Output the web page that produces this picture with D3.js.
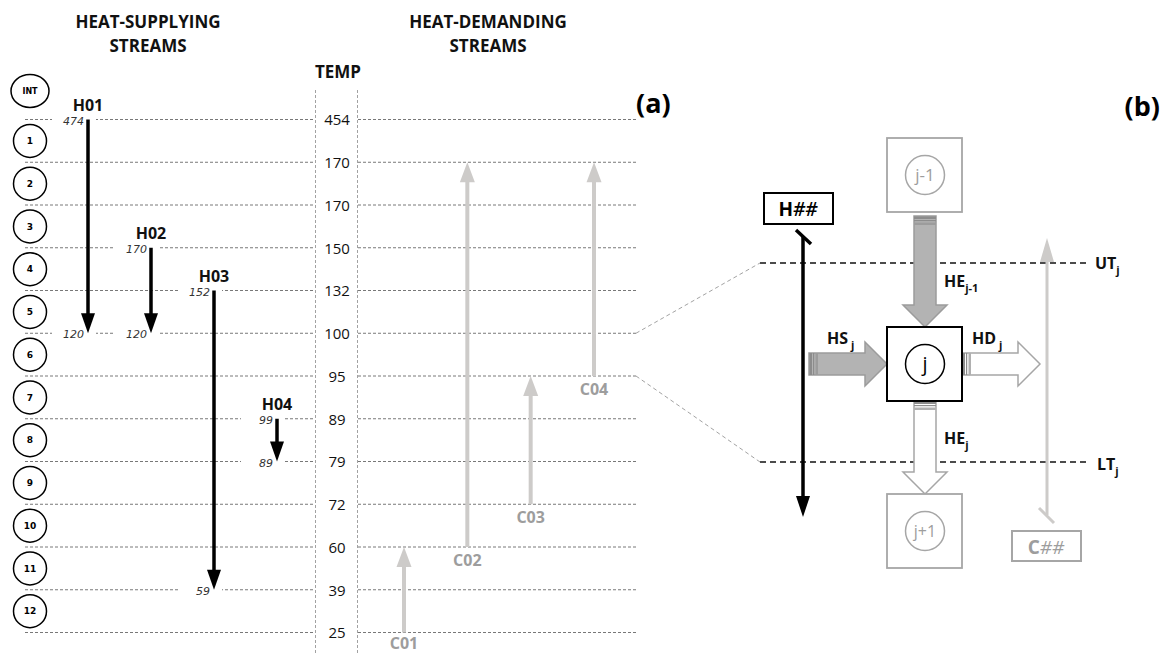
<!DOCTYPE html>
<html>
<head>
<meta charset="utf-8">
<script src="https://cdn.jsdelivr.net/npm/d3@7"></script>
<style>
  body { margin: 0; background: #fff; }
  svg text { font-family: "Open Sans", sans-serif; }
</style>
</head>
<body>
<script>
// Temperature interval boundaries, top to bottom
const tempLabels = [454, 170, 170, 150, 132, 100, 95, 89, 79, 72, 60, 39, 25];
const intervalLabels = ["1", "2", "3", "4", "5", "6", "7", "8", "9", "10", "11", "12"];

// Heat-supplying streams (start / end boundary row, real in / out temps)
const hotNames = ["H01", "H02", "H03", "H04"];
const hotStart = [0, 3, 4, 7];
const hotEnd = [5, 5, 11, 8];
const hotTin = [474, 170, 152, 99];
const hotTout = [120, 120, 59, 89];

// Heat-demanding streams (start / end boundary row)
const coldNames = ["C01", "C02", "C03", "C04"];
const coldStart = [12, 10, 9, 6];
const coldEnd = [10, 1, 6, 1];

const width = 1165, height = 654;
const svg = d3.select("body").append("svg")
  .attr("width", width)
  .attr("height", height);

// scales
const y = d3.scalePoint().domain(d3.range(tempLabels.length)).range([119.5, 632.5]);
const xHot = d3.scalePoint().domain(hotNames).range([88, 277]);
const xCold = d3.scalePoint().domain(coldNames).range([404, 594]);

// ---------- panel (a) ----------

// headers
function header(x, yy, txt, size) {
  svg.append("text")
    .attr("x", x).attr("y", yy)
    .attr("text-anchor", "middle")
    .style("font-size", size + "px")
    .style("font-weight", "bold")
    .style("fill", "#111")
    .text(txt);
}
header(148, 28, "HEAT-SUPPLYING", 17);
header(148, 52, "STREAMS", 17);
header(488, 28, "HEAT-DEMANDING", 17);
header(488, 52, "STREAMS", 17);
header(338, 78, "TEMP", 17);

svg.append("text")
  .attr("x", 636).attr("y", 113)
  .style("font-size", "27px").style("font-weight", "bold")
  .text("(a)");

// horizontal dashed boundaries
[[25, 315], [358, 636]].forEach(function (seg) {
  svg.selectAll(null)
    .data(y.domain())
    .enter().append("line")
    .attr("x1", seg[0]).attr("x2", seg[1])
    .attr("y1", d => y(d)).attr("y2", d => y(d))
    .style("stroke", "#555")
    .style("stroke-width", 0.8)
    .style("stroke-dasharray", "3 2");
});

// temperature column borders
[315.5, 357.5].forEach(function (x) {
  svg.append("line")
    .attr("x1", x).attr("x2", x).attr("y1", 90).attr("y2", height)
    .style("stroke", "#8a8a8a")
    .style("stroke-width", 0.8)
    .style("stroke-dasharray", "3 2");
});

// temperature labels via an axis
const tempAxis = d3.axisRight(y)
  .tickSize(0)
  .tickPadding(0)
  .tickFormat(i => tempLabels[i]);

svg.append("g")
  .attr("transform", "translate(337,0)")
  .call(tempAxis)
  .call(g => g.select(".domain").remove())
  .selectAll("text")
  .attr("x", 0)
  .attr("dy", "0.35em")
  .attr("text-anchor", "middle")
  .style("font-family", "'Open Sans', sans-serif")
  .style("font-size", "15px")
  .style("fill", "#111");

// interval circles
const circ = svg.append("g");
circ.append("ellipse")
  .attr("cx", 30).attr("cy", 91).attr("rx", 19).attr("ry", 16.5)
  .style("fill", "#fff").style("stroke", "#000").style("stroke-width", 1.5);
circ.append("text")
  .attr("x", 30).attr("y", 91).attr("dy", "0.35em")
  .attr("text-anchor", "middle")
  .style("font-family", "'DejaVu Sans', sans-serif")
  .style("font-size", "8px").style("font-weight", "bold")
  .text("INT");

circ.selectAll("circle.interval")
  .data(intervalLabels)
  .enter().append("circle")
  .attr("class", "interval")
  .attr("cx", 30)
  .attr("cy", (d, i) => (y(i) + y(i + 1)) / 2)
  .attr("r", 16.5)
  .style("fill", "#fff").style("stroke", "#000").style("stroke-width", 1.5);

circ.selectAll("text.interval")
  .data(intervalLabels)
  .enter().append("text")
  .attr("class", "interval")
  .attr("x", 30)
  .attr("y", (d, i) => (y(i) + y(i + 1)) / 2)
  .attr("dy", "0.35em")
  .attr("text-anchor", "middle")
  .style("font-family", "'DejaVu Sans', sans-serif")
  .style("font-size", "9px").style("font-weight", "bold")
  .text(d => d);

// hot streams
const hot = hotNames.map((n, i) => ({ name: n, start: hotStart[i], end: hotEnd[i], tin: hotTin[i], tout: hotTout[i] }));
const headL = 20, headW = 14;

const tempTags = [];
hot.forEach(d => {
  tempTags.push({ x: xHot(d.name), y: y(d.start), t: d.tin });
  tempTags.push({ x: xHot(d.name), y: y(d.end), t: d.tout });
});

svg.selectAll("rect.tagbg")
  .data(tempTags)
  .enter().append("rect")
  .attr("class", "tagbg")
  .attr("x", d => d.x - 36)
  .attr("y", d => d.y - 6)
  .attr("width", 44)
  .attr("height", 12)
  .style("fill", "#fff");

svg.selectAll("text.tag")
  .data(tempTags)
  .enter().append("text")
  .attr("class", "tag")
  .attr("x", d => d.x - 4)
  .attr("y", d => d.y + 5)
  .attr("text-anchor", "end")
  .style("font-family", "'DejaVu Sans', sans-serif")
  .style("font-size", "11px")
  .style("font-style", "italic")
  .style("fill", "#333")
  .text(d => d.t);

svg.selectAll("line.hot")
  .data(hot)
  .enter().append("line")
  .attr("class", "hot")
  .attr("x1", d => xHot(d.name)).attr("x2", d => xHot(d.name))
  .attr("y1", d => y(d.start)).attr("y2", d => y(d.end) - headL + 2)
  .style("stroke", "#000").style("stroke-width", 3.5);

svg.selectAll("path.hothead")
  .data(hot)
  .enter().append("path")
  .attr("class", "hothead")
  .attr("d", d => {
    const x = xHot(d.name), ye = y(d.end);
    return `M${x - headW / 2},${ye - headL}L${x + headW / 2},${ye - headL}L${x},${ye}Z`;
  })
  .style("fill", "#000");

svg.selectAll("text.hotname")
  .data(hot)
  .enter().append("text")
  .attr("class", "hotname")
  .attr("x", d => xHot(d.name))
  .attr("y", d => y(d.start) - 9)
  .attr("text-anchor", "middle")
  .style("font-size", "16px").style("font-weight", "bold")
  .style("fill", "#111")
  .text(d => d.name);

// cold streams
const cold = coldNames.map((n, i) => ({ name: n, start: coldStart[i], end: coldEnd[i] }));
const coldCol = "#cdcbc9";

svg.selectAll("line.cold")
  .data(cold)
  .enter().append("line")
  .attr("class", "cold")
  .attr("x1", d => xCold(d.name)).attr("x2", d => xCold(d.name))
  .attr("y1", d => y(d.start)).attr("y2", d => y(d.end) + headL - 2)
  .style("stroke", coldCol).style("stroke-width", 4);

svg.selectAll("path.coldhead")
  .data(cold)
  .enter().append("path")
  .attr("class", "coldhead")
  .attr("d", d => {
    const x = xCold(d.name), ye = y(d.end);
    return `M${x - 7.5},${ye + headL}L${x + 7.5},${ye + headL}L${x},${ye}Z`;
  })
  .style("fill", coldCol);

svg.selectAll("text.coldname")
  .data(cold)
  .enter().append("text")
  .attr("class", "coldname")
  .attr("x", d => xCold(d.name))
  .attr("y", d => Math.min(y(d.start) + 19, 649))
  .attr("text-anchor", "middle")
  .style("font-size", "16px").style("font-weight", "bold")
  .style("fill", "#9d9d9d")
  .text(d => d.name);

// ---------- panel (b) ----------
const ut = 263, lt = 462;
const pb = svg.append("g");

// connectors from interval 6 of (a)
pb.append("path")
  .attr("d", `M636,${y(5)}L760,${ut}M636,${y(6)}L760,${lt}`)
  .style("fill", "none").style("stroke", "#8a8a8a")
  .style("stroke-width", 0.8).style("stroke-dasharray", "4 3");

[ut, lt].forEach(v => {
  pb.append("line")
    .attr("x1", 760).attr("x2", 1087).attr("y1", v).attr("y2", v)
    .style("stroke", "#111").style("stroke-width", 1.4)
    .style("stroke-dasharray", "6 4");
});

function subLabel(x, yy, main, sub, gap) {
  const t = pb.append("text")
    .attr("x", x).attr("y", yy)
    .style("font-size", "16px").style("font-weight", "bold")
    .style("fill", "#111");
  t.append("tspan").text(main);
  t.append("tspan")
    .attr("dx", gap || 0)
    .attr("dy", 5)
    .style("font-size", "11px")
    .text(sub);
}
subLabel(1095, 269, "UT", "j");
subLabel(1097, 470, "LT", "j");

pb.append("text")
  .attr("x", 1160).attr("y", 116)
  .attr("text-anchor", "end")
  .style("font-size", "27px").style("font-weight", "bold")
  .text("(b)");

// cold stream in (b)
pb.append("line")
  .attr("x1", 1047).attr("x2", 1047).attr("y1", 515).attr("y2", 258)
  .style("stroke", coldCol).style("stroke-width", 3);
pb.append("path")
  .attr("d", "M1040,262L1054,262L1047,238Z")
  .style("fill", coldCol);
pb.append("line")
  .attr("x1", 1039).attr("y1", 508).attr("x2", 1054).attr("y2", 523)
  .style("stroke", coldCol).style("stroke-width", 3);
pb.append("rect")
  .attr("x", 1012).attr("y", 531).attr("width", 69).attr("height", 30)
  .style("fill", "#fff").style("stroke", "#a6a6a6").style("stroke-width", 2);
const ct = pb.append("text")
  .attr("x", 1046).attr("y", 554)
  .attr("text-anchor", "middle")
  .style("font-size", "19px").style("fill", "#9d9d9d");
ct.append("tspan").style("font-weight", "bold").text("C");
ct.append("tspan").style("font-style", "italic").text("##");

// hot stream in (b)
pb.append("line")
  .attr("x1", 803).attr("x2", 803).attr("y1", 237).attr("y2", 498)
  .style("stroke", "#000").style("stroke-width", 3.5);
pb.append("path")
  .attr("d", "M796,496L810,496L803,517Z")
  .style("fill", "#000");
pb.append("line")
  .attr("x1", 796).attr("y1", 230).attr("x2", 811).attr("y2", 244)
  .style("stroke", "#000").style("stroke-width", 3.5);
pb.append("rect")
  .attr("x", 764).attr("y", 193).attr("width", 69).attr("height", 31)
  .style("fill", "#fff").style("stroke", "#000").style("stroke-width", 2);
const ht = pb.append("text")
  .attr("x", 798).attr("y", 216)
  .attr("text-anchor", "middle")
  .style("font-size", "19px").style("font-weight", "bold").style("fill", "#000");
ht.append("tspan").text("H");
ht.append("tspan").style("font-style", "italic").style("font-weight", "600").text("##");

// block arrows between intervals
function blockArrow(tx, ty, angle, len, filled) {
  const sw = 22, hw = 44, hl = 22;
  const pts = [[0, -sw / 2], [len - hl, -sw / 2], [len - hl, -hw / 2], [len, 0],
    [len - hl, hw / 2], [len - hl, sw / 2], [0, sw / 2]];
  const a = pb.append("g").attr("transform", `translate(${tx},${ty}) rotate(${angle})`);
  a.append("path")
    .attr("d", d3.line()(pts) + "Z")
    .style("fill", filled ? "#b3b3b3" : "#fff")
    .style("stroke", filled ? "#9c9c9c" : "#a6a6a6")
    .style("stroke-width", 1.5);
  [[0.5, 2.5, "#8c8c8c"], [4, 1.2, "#8c8c8c"], [6.5, 2.5, filled ? "#9c9c9c" : "#b0b0b0"]].forEach(s => {
    a.append("rect")
      .attr("x", s[0]).attr("y", -sw / 2)
      .attr("width", s[1]).attr("height", sw)
      .style("fill", s[2]);
  });
}
blockArrow(925, 216, 90, 111, true);   // HE j-1
blockArrow(809, 364, 0, 78, true);     // HS j
blockArrow(962, 364, 0, 78, false);    // HD j
blockArrow(925, 401, 90, 93, false);   // HE j

// interval boxes
const boxes = [
  { top: 138, label: "j-1", col: "#a6a6a6", size: 17 },
  { top: 327, label: "j", col: "#000", size: 20 },
  { top: 494, label: "j+1", col: "#a6a6a6", size: 16 }
];
boxes.forEach(b => {
  pb.append("rect")
    .attr("x", 887).attr("y", b.top).attr("width", 75).attr("height", 74)
    .style("fill", "#fff").style("stroke", b.col).style("stroke-width", b.label === "j" ? 2 : 1.8);
  pb.append("circle")
    .attr("cx", 925).attr("cy", b.top + 37).attr("r", 19.5)
    .style("fill", "#fff").style("stroke", b.col).style("stroke-width", 1.5);
  pb.append("text")
    .attr("x", 925).attr("y", b.top + 37).attr("dy", "0.35em")
    .attr("text-anchor", "middle")
    .style("font-size", b.size + "px")
    .style("fill", b.label === "j" ? "#000" : "#9d9d9d")
    .text(b.label);
});

subLabel(944, 287, "HE", "j-1");
subLabel(827, 344, "HS", "j", 3);
subLabel(972, 344, "HD", "j", 3);
subLabel(944, 444, "HE", "j");
</script>
</body>
</html>
